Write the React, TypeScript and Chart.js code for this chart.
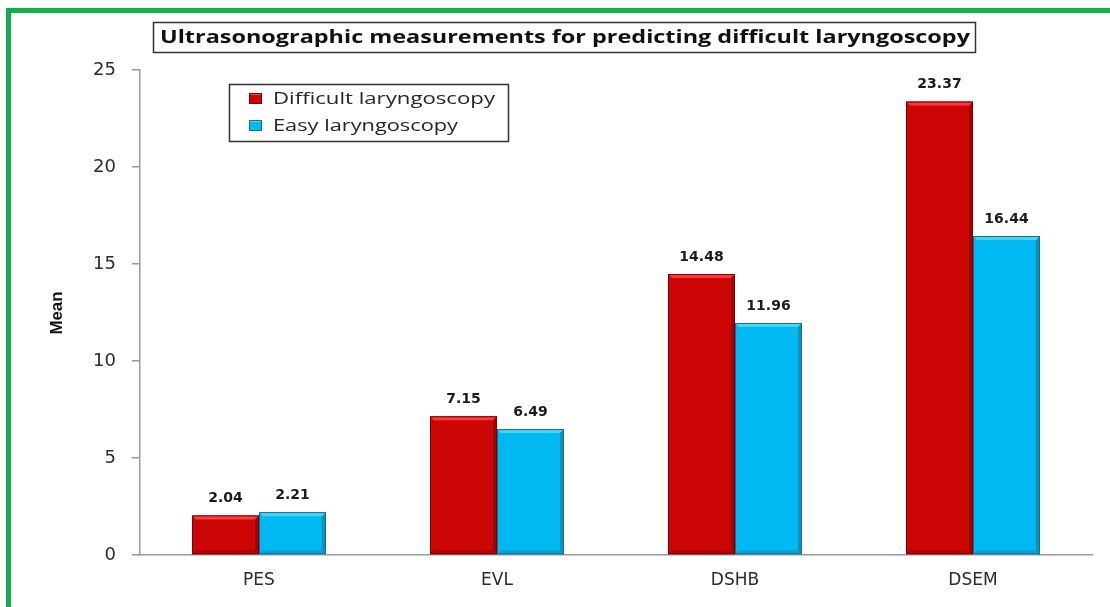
import React, { useEffect, useRef } from "react";
import { Chart, registerables } from "chart.js";

Chart.register(...registerables);

const categories = ["PES", "EVL", "DSHB", "DSEM"];
const difficultValues = [2.04, 7.15, 14.48, 23.37];
const easyValues = [2.21, 6.49, 11.96, 16.44];
const seriesNames = ["Difficult laryngoscopy", "Easy laryngoscopy"];
const chartTitle = "Ultrasonographic measurements for predicting difficult laryngoscopy";
const yTitle = "Mean";

const RED = "#cc0505";
const RED_DARK = "#7a0000";
const RED_LIGHT = "#ff3b3b";
const BLUE = "#00b9f2";
const BLUE_DARK = "#1a6c8a";
const BLUE_LIGHT = "#45d6ff";

function drawFit(ctx: CanvasRenderingContext2D, text: string, x: number, y: number, width: number, font: string, color: string) {
  ctx.save();
  ctx.font = font;
  ctx.fillStyle = color;
  ctx.textBaseline = "middle";
  ctx.textAlign = "left";
  const w = ctx.measureText(text).width;
  ctx.translate(x, y);
  ctx.scale(width / w, 1);
  ctx.fillText(text, 0, 0);
  ctx.restore();
}

const decorPlugin = {
  id: "decor",
  afterDatasetsDraw(chart: any) {
    const ctx: CanvasRenderingContext2D = chart.ctx;
    chart.data.datasets.forEach((ds: any, di: number) => {
      const meta = chart.getDatasetMeta(di);
      const light = di === 0 ? RED_LIGHT : BLUE_LIGHT;
      const dark = di === 0 ? RED_DARK : BLUE_DARK;
      meta.data.forEach((el: any, i: number) => {
        const left = el.x - el.width / 2;
        const right = el.x + el.width / 2;
        const top = el.y;
        const bottom = el.base;
        const b = 4;
        ctx.save();
        ctx.fillStyle = light;
        ctx.beginPath();
        ctx.moveTo(left, top);
        ctx.lineTo(right, top);
        ctx.lineTo(right - b, top + b);
        ctx.lineTo(left + b, top + b);
        ctx.closePath();
        ctx.fill();
        ctx.globalAlpha = 0.5;
        ctx.fillStyle = dark;
        ctx.beginPath();
        ctx.moveTo(right, top);
        ctx.lineTo(right, bottom);
        ctx.lineTo(right - b, bottom - b);
        ctx.lineTo(right - b, top + b);
        ctx.closePath();
        ctx.fill();
        ctx.globalAlpha = 0.3;
        ctx.beginPath();
        ctx.moveTo(left, bottom);
        ctx.lineTo(right, bottom);
        ctx.lineTo(right - b, bottom - b);
        ctx.lineTo(left + b, bottom - b);
        ctx.closePath();
        ctx.fill();
        ctx.globalAlpha = 1;
        ctx.strokeStyle = dark;
        ctx.lineWidth = 1;
        ctx.strokeRect(left + 0.5, top + 0.5, el.width - 1, bottom - top - 1);
        ctx.restore();
        const v = ds.data[i];
        ctx.save();
        ctx.font = "bold 14px 'DejaVu Sans', sans-serif";
        ctx.fillStyle = "#1a1a1a";
        ctx.textAlign = "center";
        ctx.textBaseline = "bottom";
        ctx.fillText(v.toFixed(2), el.x, top - 10);
        ctx.restore();
      });
    });
  },
  afterDraw(chart: any) {
    const ctx: CanvasRenderingContext2D = chart.ctx;
    ctx.save();
    ctx.fillStyle = "#ffffff";
    ctx.fillRect(153, 22, 822, 30);
    ctx.strokeStyle = "#333333";
    ctx.lineWidth = 1.5;
    ctx.strokeRect(153.5, 22.5, 822, 30);
    ctx.restore();
    drawFit(ctx, chartTitle, 160, 38, 810, "bold 18px 'Open Sans', sans-serif", "#111111");
    ctx.save();
    ctx.fillStyle = "#ffffff";
    ctx.fillRect(229, 84, 279, 57);
    ctx.strokeStyle = "#333333";
    ctx.lineWidth = 1.5;
    ctx.strokeRect(229.5, 84.5, 279, 57);
    const items = [
      { name: seriesNames[0], c: RED, l: RED_LIGHT, d: RED_DARK, y: 98, w: 222 },
      { name: seriesNames[1], c: BLUE, l: BLUE_LIGHT, d: BLUE_DARK, y: 125, w: 185 },
    ];
    items.forEach((it) => {
      ctx.fillStyle = it.c;
      ctx.fillRect(249, it.y - 5, 13, 11);
      ctx.fillStyle = it.l;
      ctx.fillRect(249, it.y - 5, 13, 2);
      ctx.strokeStyle = it.d;
      ctx.lineWidth = 1;
      ctx.strokeRect(249.5, it.y - 4.5, 12, 10);
      drawFit(ctx, it.name, 273, it.y + 1, it.w, "17px 'Open Sans', sans-serif", "#262626");
    });
    ctx.restore();
    ctx.save();
    ctx.translate(57, 313);
    ctx.rotate(-Math.PI / 2);
    drawFit(ctx, yTitle, -21.5, 0, 43, "bold 17px 'Liberation Sans Narrow', 'Liberation Sans', sans-serif", "#111111");
    ctx.restore();
  },
};

export default function App() {
  const ref = useRef<HTMLCanvasElement | null>(null);
  useEffect(() => {
    document.body.style.margin = "0";
    const canvas = ref.current!;
    const chart = new Chart(canvas, {
      type: "bar",
      data: {
        labels: categories,
        datasets: [
          {
            label: seriesNames[0],
            data: difficultValues,
            backgroundColor: RED,
            borderWidth: 0,
            categoryPercentage: 0.563,
            barPercentage: 1,
          },
          {
            label: seriesNames[1],
            data: easyValues,
            backgroundColor: BLUE,
            borderWidth: 0,
            categoryPercentage: 0.563,
            barPercentage: 1,
          },
        ],
      },
      options: {
        animation: false,
        responsive: false,
        layout: { padding: { top: 70, right: 18, left: 0, bottom: 0 } },
        plugins: {
          legend: { display: false },
          title: { display: false },
          tooltip: { enabled: false },
        },
        scales: {
          x: {
            grid: { display: false, drawTicks: false },
            border: { display: true, color: "#9a9a9a", width: 1.5 },
            ticks: {
              color: "#2b2b2b",
              font: { family: "'DejaVu Sans', sans-serif", size: 17 },
              padding: 15,
            },
            afterFit: (s: any) => {
              s.height = 52;
            },
          },
          y: {
            min: 0,
            max: 25,
            grid: {
              display: true,
              drawOnChartArea: false,
              drawTicks: true,
              tickLength: 8,
              color: "#9a9a9a",
              lineWidth: 1.5,
            },
            border: { display: true, color: "#9a9a9a", width: 1.5 },
            ticks: {
              stepSize: 5,
              color: "#2b2b2b",
              font: { family: "'DejaVu Sans', sans-serif", size: 18 },
              padding: 16,
            },
            afterFit: (s: any) => {
              s.width = 140;
            },
          },
        },
      },
      plugins: [decorPlugin],
    });
    return () => chart.destroy();
  }, []);

  return (
    <div style={{ position: "absolute", left: 0, top: 0, width: 1110, height: 607, background: "#fff", overflow: "hidden" }}>
      <canvas ref={ref} width={1110} height={607} style={{ position: "absolute", left: 0, top: 0 }} />
      <div
        style={{
          position: "absolute",
          left: 6,
          top: 8,
          width: 1200,
          height: 700,
          borderTop: "5px solid #10b04e",
          borderLeft: "5px solid #10b04e",
          boxSizing: "border-box",
          pointerEvents: "none",
        }}
      />
    </div>
  );
}
